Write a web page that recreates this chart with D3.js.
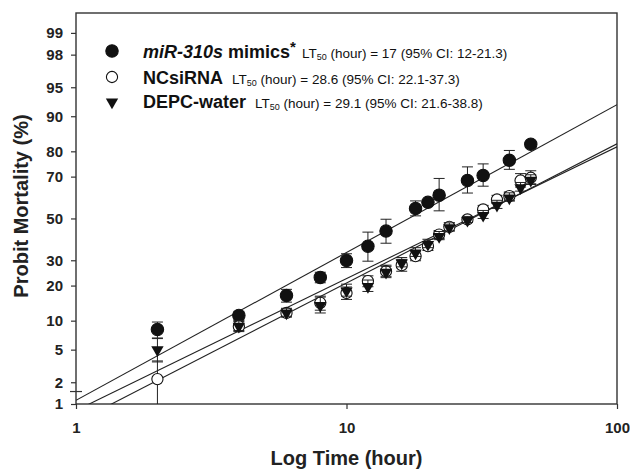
<!DOCTYPE html>
<html>
<head>
<meta charset="utf-8">
<script src="https://cdn.jsdelivr.net/npm/d3@7"></script>
<style>
  body { margin: 0; background: #fff; }
  text { font-family: "Liberation Sans", Arial, sans-serif; }
</style>
</head>
<body>
<div class="plot"></div>
<script>
// hours and mortality (%)
const timesMimics = [2, 4, 6, 8, 10, 12, 14, 18, 20, 22, 28, 32, 40, 48];
const mortMimics  = [8.2, 11.2, 16.7, 23, 29.9, 36.4, 43.7, 55, 58, 61.5, 68.3, 70.5, 76.7, 82.4];
const errMimics   = [1.5, 1, 2, 2, 3, 6.8, 5.9, 3.7, 1, 7.7, 5.8, 4.8, 3.6, 1];

const timesNC = [2, 4, 6, 8, 10, 12, 14, 16, 18, 20, 22, 24, 28, 32, 36, 40, 44, 48];
const mortNC  = [2.2, 8.8, 11.8, 14.5, 17.5, 21.6, 25.4, 27.9, 31.8, 36.4, 42, 45.8, 49.5, 54.5, 59.4, 61, 68.3, 69.5];
const errNC   = [1.5, 1, 1, 2, 2, 2, 2.5, 2.5, 2, 2, 2, 2, 1.5, 2, 2, 2, 3, 3];

const timesDEPC = [2, 4, 6, 8, 10, 12, 14, 16, 18, 20, 22, 24, 28, 32, 36, 40, 44, 48];
const mortDEPC  = [5.1, 9, 12, 14, 18.5, 20, 25.4, 29.2, 33.7, 37.7, 41.5, 45.8, 49.5, 52, 57, 60.6, 65.4, 68.8];
const errDEPC   = [1.5, 1, 1, 2.2, 2, 2, 2, 2, 2, 2, 2, 2, 1.5, 2, 2, 2, 2, 2];

// probit regression: LT50 (hour) and slope per log10(hour)
const lt50   = [17, 28.6, 29.1];
const slopes = [1.853, 1.653, 1.746];
const ciText = ['(hour) = 17 (95% CI: 12-21.3)', '(hour) = 28.6 (95% CI: 22.1-37.3)', '(hour) = 29.1 (95% CI: 21.6-38.8)'];

const xTicks = [1, 10, 100];
const yTicks = [1, 2, 5, 10, 20, 30, 50, 70, 80, 90, 95, 98, 99];

// inverse normal cdf (Acklam)
const probit = (p) => {
    const a = [-39.6968302866538, 220.946098424521, -275.928510446969, 138.357751867269, -30.6647980661472, 2.50662827745924],
        b = [-54.4760987982241, 161.585836858041, -155.698979859887, 66.8013118877197, -13.2806815528857],
        c = [-0.00778489400243029, -0.322396458041136, -2.40075827716184, -2.54973253934373, 4.37466414146497, 2.93816398269878],
        d = [0.00778469570904146, 0.32246712907004, 2.445134137143, 3.75440866190742];
    const pl = 0.02425;
    let q, r;
    if (p < pl) {
        q = Math.sqrt(-2 * Math.log(p));
        return (((((c[0] * q + c[1]) * q + c[2]) * q + c[3]) * q + c[4]) * q + c[5]) / ((((d[0] * q + d[1]) * q + d[2]) * q + d[3]) * q + 1);
    }
    if (p > 1 - pl) {
        q = Math.sqrt(-2 * Math.log(1 - p));
        return -(((((c[0] * q + c[1]) * q + c[2]) * q + c[3]) * q + c[4]) * q + c[5]) / ((((d[0] * q + d[1]) * q + d[2]) * q + d[3]) * q + 1);
    }
    q = p - 0.5;
    r = q * q;
    return (((((a[0] * r + a[1]) * r + a[2]) * r + a[3]) * r + a[4]) * r + a[5]) * q / (((((b[0] * r + b[1]) * r + b[2]) * r + b[3]) * r + b[4]) * r + 1);
};

const W = 630, H = 469;
const mLeft = 76, mRight = 617, mTop = 13, mBottom = 404;

const svg = d3.select('.plot')
    .append('svg')
    .attr('width', W)
    .attr('height', H);

const xScale = d3.scaleLog().domain([1, 100]).range([mLeft, mRight]);
const zScale = d3.scaleLinear().domain([probit(0.01), probit(0.995)]).range([mBottom, mTop]);
const yScale = (pct) => zScale(probit(Math.min(Math.max(pct, 0.05), 99.95) / 100));

svg.append('defs').append('clipPath')
    .attr('id', 'clip')
    .append('rect')
    .attr('x', mLeft).attr('y', mTop)
    .attr('width', mRight - mLeft).attr('height', mBottom - mTop);

// axes
const xAxis = d3.axisBottom(xScale)
    .tickValues(xTicks)
    .tickFormat(d3.format('d'))
    .tickSizeOuter(0)
    .tickSize(5)
    .tickPadding(10);

const yAxis = d3.axisLeft(zScale)
    .tickValues(yTicks.map(p => probit(p / 100)))
    .tickFormat((d, i) => yTicks[i])
    .tickSizeOuter(0)
    .tickSize(5)
    .tickPadding(8);

const gx = svg.append('g')
    .attr('transform', `translate(0, ${mBottom})`)
    .call(xAxis);

const gy = svg.append('g')
    .attr('transform', `translate(${mLeft}, 0)`)
    .call(yAxis);

[gx, gy].forEach(g => {
    g.selectAll('text')
        .attr('font-size', '15px')
        .attr('font-weight', 'bold')
        .attr('fill', '#222');
    g.selectAll('line').attr('stroke', '#333').attr('stroke-width', 1.2);
    g.select('.domain').remove();
});
gx.selectAll('text').attr('dy', '0.9em');

// small crossing tick near the bottom of the y axis
svg.append('line')
    .attr('x1', mLeft - 6).attr('x2', mLeft + 6)
    .attr('y1', yScale(1.5)).attr('y2', yScale(1.5))
    .attr('stroke', '#333').attr('stroke-width', 1.2);

svg.append('rect')
    .attr('x', mLeft).attr('y', mTop)
    .attr('width', mRight - mLeft).attr('height', mBottom - mTop)
    .attr('fill', 'none')
    .attr('stroke', '#333')
    .attr('stroke-width', 1.4);

// axis titles
svg.append('text')
    .text('Log Time (hour)')
    .attr('x', (mLeft + mRight) / 2)
    .attr('y', 465)
    .attr('text-anchor', 'middle')
    .attr('font-size', '20px')
    .attr('font-weight', 'bold')
    .attr('fill', '#222');

svg.append('text')
    .text('Probit Mortality (%)')
    .attr('transform', 'translate(28, 206) rotate(-90)')
    .attr('text-anchor', 'middle')
    .attr('font-size', '20px')
    .attr('font-weight', 'bold')
    .attr('fill', '#222');

const plot = svg.append('g').attr('clip-path', 'url(#clip)');

// regression lines
lt50.forEach((lt, i) => {
    const zAt = t => slopes[i] * (Math.log10(t) - Math.log10(lt));
    plot.append('line')
        .attr('x1', xScale(1)).attr('y1', zScale(zAt(1)))
        .attr('x2', xScale(100)).attr('y2', zScale(zAt(100)))
        .attr('stroke', '#222')
        .attr('stroke-width', 1.1);
});

const series = [
    { t: timesMimics, v: mortMimics, e: errMimics, type: 'filled' },
    { t: timesNC, v: mortNC, e: errNC, type: 'open' },
    { t: timesDEPC, v: mortDEPC, e: errDEPC, type: 'tri' }
];

const tri = d3.symbol().type(d3.symbolTriangle).size(66);

const drawMarker = (g, type, x, y) => {
    if (type === 'tri') {
        g.append('path')
            .attr('d', tri())
            .attr('transform', `translate(${x}, ${y + 1}) rotate(180)`)
            .attr('fill', '#111');
    } else {
        g.append('circle')
            .attr('cx', x).attr('cy', y)
            .attr('r', type === 'filled' ? 6.2 : 5.6)
            .attr('fill', type === 'filled' ? '#111' : '#fff')
            .attr('stroke', '#111')
            .attr('stroke-width', 1.1);
    }
};

series.forEach(s => {
    const g = plot.append('g');
    s.t.forEach((t, i) => {
        const x = xScale(t);
        const y1 = yScale(s.v[i] - s.e[i]), y2 = yScale(s.v[i] + s.e[i]);
        g.append('line')
            .attr('x1', x).attr('x2', x).attr('y1', y1).attr('y2', y2)
            .attr('stroke', '#222').attr('stroke-width', 1);
        [y1, y2].forEach(yy => g.append('line')
            .attr('x1', x - 5.5).attr('x2', x + 5.5).attr('y1', yy).attr('y2', yy)
            .attr('stroke', '#222').attr('stroke-width', 1));
    });
    s.t.forEach((t, i) => drawMarker(g, s.type, xScale(t), yScale(s.v[i])));
});

// legend
const legendY = [51, 77, 101];
const legend = svg.append('g');
legendY.forEach((ly, i) => {
    drawMarker(legend, series[i].type, 112, ly);
    const txt = legend.append('text')
        .attr('x', 143)
        .attr('y', ly + 6.5)
        .attr('fill', '#111');
    if (i === 0) {
        txt.append('tspan').text('miR-310s').attr('font-weight', 'bold').attr('font-style', 'italic').attr('font-size', '18px');
        txt.append('tspan').text(' mimics').attr('font-weight', 'bold').attr('font-size', '18px');
        txt.append('tspan').text('*').attr('font-weight', 'bold').attr('font-size', '15px').attr('dy', -6);
        txt.append('tspan').text('LT').attr('font-size', '13.5px').attr('dx', 6).attr('dy', 6);
    } else {
        txt.append('tspan').text(i === 1 ? 'NCsiRNA' : 'DEPC-water').attr('font-weight', 'bold').attr('font-size', '18px');
        txt.append('tspan').text('LT').attr('font-size', '13.5px').attr('dx', 9);
    }
    txt.append('tspan').text('50').attr('font-size', '9px').attr('dy', 2.5);
    txt.append('tspan').text(' ' + ciText[i]).attr('font-size', '13.5px').attr('dy', -2.5);
});
</script>
</body>
</html>
